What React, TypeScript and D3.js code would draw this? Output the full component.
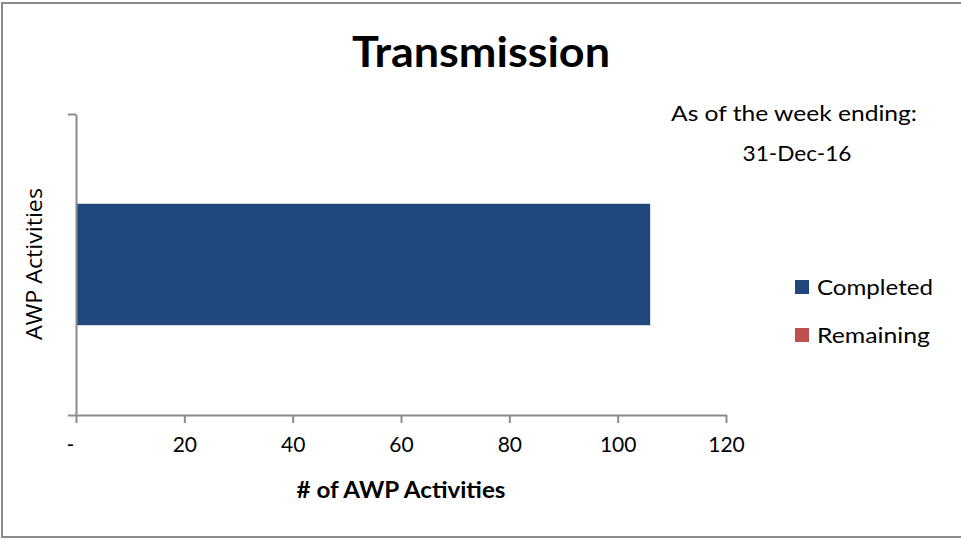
import React, { useRef, useEffect } from "react";
import * as d3 from "d3";

// chart data
const categories = ["Transmission"];
const seriesNames = ["Completed", "Remaining"];
const completed = [106];
const remaining = [0];
const xTicks = [0, 20, 40, 60, 80, 100, 120];
const seriesColors = ["#1f497d", "#c0504d"];
const legendWidths = [116, 113];

const W = 961;
const H = 539;
const FONT = "Lato, 'Open Sans', sans-serif";
const AXIS_GREY = "#8c8c8c";

export default function App() {
  const svgRef = useRef<SVGSVGElement>(null);

  useEffect(() => {
    if (!svgRef.current) return;
    const svg = d3.select(svgRef.current);
    svg.selectAll("*").remove();

    const plot = { left: 76, right: 726, top: 114, bottom: 415 };

    // outer chart border
    svg.append("rect")
      .attr("x", 2).attr("y", 3)
      .attr("width", W).attr("height", 534)
      .attr("fill", "#fff")
      .attr("stroke", "#8a8a8a")
      .attr("stroke-width", 2);

    const x = d3.scaleLinear().domain([0, 120]).range([plot.left, plot.right]);
    const y = d3.scaleBand<string>()
      .domain(categories)
      .range([plot.bottom, plot.top])
      .padding(0.425);

    // stacked bars
    const rows = categories.map((c, i) => ({ cat: c, Completed: completed[i], Remaining: remaining[i] }));
    const stacked = d3.stack<any>().keys(seriesNames)(rows);

    svg.append("g")
      .selectAll("g")
      .data(stacked)
      .join("g")
      .attr("fill", (_d, i) => seriesColors[i])
      .selectAll("rect")
      .data(d => d)
      .join("rect")
      .attr("x", d => x(d[0]))
      .attr("y", d => y(d.data.cat) as number)
      .attr("width", d => x(d[1]) - x(d[0]))
      .attr("height", y.bandwidth());

    // category axis (ticks at band boundaries)
    const yEdge = d3.scaleLinear().domain([0, categories.length]).range([plot.bottom, plot.top]);
    const gy = svg.append("g")
      .attr("transform", `translate(${plot.left},0)`)
      .call(d3.axisLeft(yEdge).ticks(categories.length).tickSize(8).tickSizeOuter(0).tickFormat(() => ""));
    gy.selectAll("path,line").attr("stroke", AXIS_GREY).attr("stroke-width", 2);

    // value axis
    const gx = svg.append("g")
      .attr("transform", `translate(0,${plot.bottom})`)
      .call(
        d3.axisBottom(x)
          .tickValues(xTicks)
          .tickSize(8)
          .tickSizeOuter(0)
          .tickPadding(14)
          .tickFormat(d => (+d === 0 ? "-" : String(d)))
      );
    gx.selectAll("path,line").attr("stroke", AXIS_GREY).attr("stroke-width", 2);
    gx.selectAll("text")
      .attr("font-family", FONT)
      .attr("font-size", 21)
      .attr("fill", "#000")
      .attr("dx", (d: any) => (d === 0 ? -6 : 0));

    const label = (
      txt: string, cx: number, by: number, size: number, len: number, bold = false
    ) =>
      svg.append("text")
        .attr("x", cx).attr("y", by)
        .attr("text-anchor", "middle")
        .attr("font-family", FONT)
        .attr("font-weight", bold ? "bold" : "normal")
        .attr("font-size", size)
        .attr("textLength", len)
        .attr("lengthAdjust", "spacingAndGlyphs")
        .text(txt);

    // title
    label("Transmission", 481, 67, 42, 258, true);

    // axis titles
    label("# of AWP Activities", 401, 498, 22, 209, true);

    svg.append("text")
      .attr("transform", "translate(42,264) rotate(-90)")
      .attr("text-anchor", "middle")
      .attr("font-family", "'Open Sans', sans-serif")
      .attr("font-size", 21)
      .attr("textLength", 152)
      .attr("lengthAdjust", "spacingAndGlyphs")
      .text("AWP Activities");

    // week-ending note
    label("As of the week ending:", 794, 121, 21, 246);
    label("31-Dec-16", 797, 161, 21, 109);

    // legend
    const legend = svg.append("g")
      .selectAll("g")
      .data(seriesNames)
      .join("g")
      .attr("transform", (_d, i) => `translate(795,${280 + i * 48})`);
    legend.append("rect")
      .attr("width", 14).attr("height", 14)
      .attr("fill", (_d, i) => seriesColors[i]);
    legend.append("text")
      .attr("x", 22).attr("y", 15)
      .attr("font-family", FONT)
      .attr("font-size", 22)
      .attr("textLength", (_d, i) => legendWidths[i])
      .attr("lengthAdjust", "spacingAndGlyphs")
      .text(d => d);
  }, []);

  return (
    <svg
      ref={svgRef}
      width={W}
      height={H}
      viewBox={`0 0 ${W} ${H}`}
      style={{ position: "absolute", left: 0, top: 0 }}
    />
  );
}
